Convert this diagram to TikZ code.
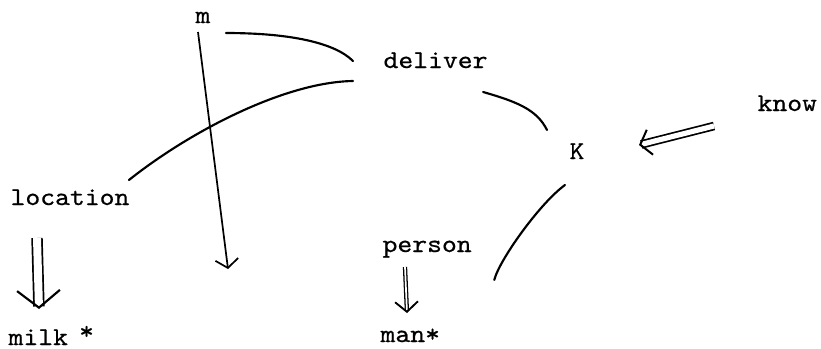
\documentclass[tikz,border=0pt]{standalone}
\usepackage{fontspec}
\newfontfamily\typefont[FakeStretch=1.1,FakeBold=0.6]{lmmono10-regular.otf}
\usepackage{tikz}
\usetikzlibrary{arrows.meta,calc}
\tikzset{
  %% typed labels, placed by their baseline
  word/.style={inner sep=0pt, anchor=base west,
               font=\typefont\fontsize{9pt}{11pt}\selectfont},
  %% plain strokes
  link/.style={line width=0.75pt, line cap=round},
  pointer/.style={line width=0.6pt, -{Straight Barb[length=3pt,width=8pt]}},
  %% double arrows
  implies/.style={double, line width=0.6pt},
}

\begin{document}
\begin{tikzpicture}[x=0.35pt,y=-0.35pt]
\useasboundingbox (0,0) rectangle (821,348);

%% labels
\node[word] (m)        at (195,23)  {m};
\node[word] (deliver)  at (383,68)  {deliver};
\node[word] (know)     at (757,111) {know};
\node[word] (K)        at (569,159) {K};
\node[word] (location) at (10,205)  {location};
\node[word] (person)   at (382,252) {person};
\node[word] (milk)     at (8,345)   {milk\kern3.9pt\raisebox{2pt}{*}};
\node[word] (man)      at (380,342) {man*};
\coordinate (drop) at (228,269);

%% arcs
\draw[link] ([shift={(15,10)}]m.base east)
  .. controls +(65,0) and +(-18,-18) .. ([shift={(-30,-7)}]deliver.base west);
\draw[link] ([shift={(-30,13)}]deliver.base west)
  .. controls +(-67,1) and +(63,-50) .. ([shift={(-1,-25)}]location.base east);
\draw[link] ([shift={(-5,24)}]deliver.base east)
  .. controls +(35,10) and +(-10,-20) .. ([shift={(-22,-29)}]K.base west);
\draw[link] ([shift={(-4,26)}]K.base west)
  .. controls +(-25,18) and +(5,-20) .. ([shift={(22,28)}]person.base east);
\draw[pointer] ([shift={(3,9)}]m.base west) -- (drop);

%% implications
\draw[implies, double distance=1.8pt,
      -{Straight Barb[length=3.5pt,width=9pt,line width=0.7pt]}]
  ([shift={(-43,15)}]know.base west) -- ([shift={(54,-14)}]K.base east);
\draw[implies, double distance=2.8pt,
      -{Straight Barb[length=6pt,width=15pt,line width=0.75pt]}]
  ([shift={(27,33)}]location.base west) -- ([shift={(31,-36)}]milk.base west);
\draw[implies, line width=0.45pt, double distance=0.6pt,
      -{Straight Barb[length=3.5pt,width=8pt,line width=0.65pt]}]
  ([shift={(23,15)}]person.base west) -- ([shift={(27,-29)}]man.base west);
\end{tikzpicture}
\end{document}
